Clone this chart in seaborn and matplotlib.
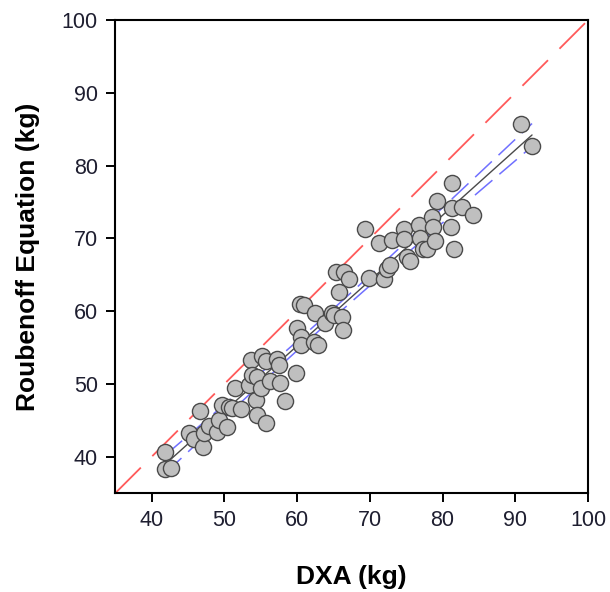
import numpy as np
import pandas as pd
import seaborn as sns
import matplotlib
import matplotlib.pyplot as plt

matplotlib.use('Agg')

# DXA vs Roubenoff equation (kg)
dxa = [41.9, 41.8, 42.6, 45.2, 46.6, 45.8, 47.0, 47.2, 47.9, 49.0, 49.2, 50.4, 49.7,
       50.7, 51.1, 52.3, 51.4, 53.6, 53.4, 53.8, 54.4, 54.5, 55.0, 54.5, 55.7, 55.2,
       55.7, 57.2, 57.5, 56.3, 57.7, 58.4, 59.9, 60.0, 60.5, 60.5, 60.4, 61.0, 62.4,
       62.3, 62.9, 63.8, 64.8, 65.1, 65.4, 66.4, 67.1, 65.8, 66.2, 66.3, 69.4, 69.9,
       71.3, 71.9, 72.3, 72.8, 73.1, 74.7, 74.7, 75.1, 75.5, 76.7, 76.9, 77.3, 77.9,
       78.6, 78.7, 78.9, 79.3, 81.3, 81.3, 81.2, 81.6, 82.7, 84.2, 90.8, 92.3]
roubenoff = [40.6, 38.3, 38.4, 43.2, 46.3, 42.4, 41.4, 43.2, 44.2, 43.4, 45.0, 44.1, 47.1,
             46.8, 46.7, 46.6, 49.4, 53.3, 49.9, 51.2, 47.8, 50.9, 49.4, 45.8, 44.6, 53.8,
             53.1, 53.4, 52.6, 50.4, 50.2, 47.7, 51.5, 57.7, 56.4, 55.3, 61.0, 60.8, 59.7,
             55.8, 55.3, 58.4, 59.7, 59.5, 65.4, 65.4, 64.4, 62.6, 59.2, 57.4, 71.3, 64.5,
             69.4, 64.4, 65.8, 66.4, 69.8, 71.3, 69.9, 67.5, 66.9, 71.9, 70.0, 68.5, 68.5,
             72.9, 71.6, 69.7, 75.2, 77.6, 74.2, 71.6, 68.6, 74.3, 73.2, 85.7, 82.7]
ticks = [40, 50, 60, 70, 80, 90, 100]

df = pd.DataFrame({'DXA': dxa, 'Roubenoff': roubenoff})

# linear fit with 95% confidence band of the mean
x = df['DXA'].values
y = df['Roubenoff'].values
n = len(x)
b, a = np.polyfit(x, y, 1)
resid = y - (a + b * x)
s = np.sqrt(np.sum(resid ** 2) / (n - 2))
xs = np.linspace(x.min(), x.max(), 100)
yfit = a + b * xs
se = s * np.sqrt(1 / n + (xs - x.mean()) ** 2 / np.sum((x - x.mean()) ** 2))
fit = pd.DataFrame({'x': xs, 'fit': yfit, 'lo': yfit - 1.99 * se, 'hi': yfit + 1.99 * se})

sns.set_style('white')
plt.rcParams['font.family'] = ['Liberation Sans', 'DejaVu Sans']

fig = plt.figure(figsize=(6.1, 5.92), dpi=100)
ax = fig.add_axes([0.189, 0.167, 0.775, 0.799])

ax.plot([35, 100], [35, 100], color='#ff5a5a', lw=1.3, dashes=(20, 9))
sns.lineplot(data=fit, x='x', y='lo', ax=ax, color='#7070ff', lw=1.1, dashes=(15, 6))
sns.lineplot(data=fit, x='x', y='hi', ax=ax, color='#7070ff', lw=1.1, dashes=(15, 6))
sns.lineplot(data=fit, x='x', y='fit', ax=ax, color='#4a4a4a', lw=1.0)
sns.scatterplot(data=df, x='DXA', y='Roubenoff', ax=ax, s=135, color='#bfbfbf',
                edgecolor='#4a4a4a', linewidth=1.0, zorder=5)

ax.set_xlim(35, 100)
ax.set_ylim(35, 100)
ax.set_xticks(ticks)
ax.set_yticks(ticks)
ax.tick_params(axis='both', which='both', direction='out', length=6.5, width=1.4,
               labelsize=15.5, labelcolor='#1e1e30', color='black',
               bottom=True, left=True, top=False, right=False, pad=6)
for sp in ax.spines.values():
    sp.set_color('black')
    sp.set_linewidth(1.5)
ax.set_xlabel('DXA (kg)', fontsize=19, fontweight='bold', labelpad=24, color='black')
ax.set_ylabel('Roubenoff Equation (kg)', fontsize=19, fontweight='bold', labelpad=16,
              color='black')

fig.savefig('out.png', dpi=100)
